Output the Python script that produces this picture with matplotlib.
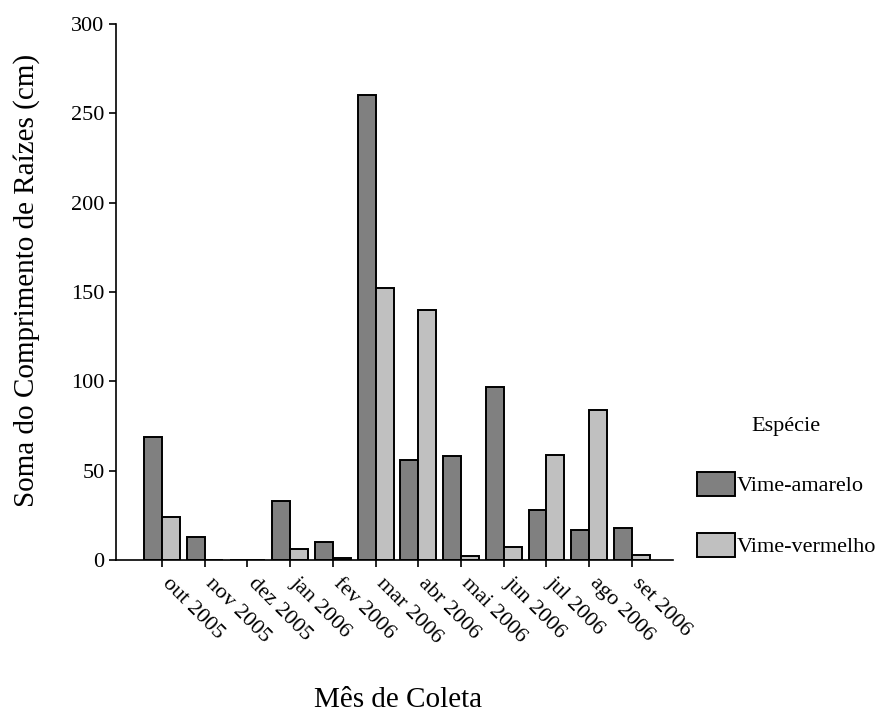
import matplotlib
matplotlib.use('Agg')
import matplotlib.pyplot as plt
import matplotlib.transforms as mtransforms
import numpy as np

plt.rcParams['font.family'] = 'Liberation Serif'

meses = ['out 2005', 'nov 2005', 'dez 2005', 'jan 2006', 'fev 2006', 'mar 2006',
         'abr 2006', 'mai 2006', 'jun 2006', 'jul 2006', 'ago 2006', 'set 2006']
amarelo = [69, 13, 0, 33, 10, 260, 56, 58, 97, 28, 17, 18]
vermelho = [24, 0, 0, 6, 1, 152, 140, 2, 7, 59, 84, 3]

fig = plt.figure(figsize=(8.82, 7.13), dpi=100)
ax = fig.add_axes([0.1319, 0.2146, 0.631, 0.7517])

x = np.arange(len(meses))
w = 0.42
ax.bar(x, amarelo, -w, align='edge', color='#808080', edgecolor='black', linewidth=1.4,
       label='Vime-amarelo')
ax.bar(x, vermelho, w, align='edge', color='#c0c0c0', edgecolor='black', linewidth=1.4,
       label='Vime-vermelho')

ax.set_xlim(-1.07, 11.96)
ax.set_ylim(0, 300)
ax.set_yticks([0, 50, 100, 150, 200, 250, 300])
ax.set_xticks(x)
ax.set_xticklabels(meses, rotation=-45, ha='left', va='top', rotation_mode='anchor')
ax.tick_params(labelsize=16, length=5, width=1.2, direction='out')
# shift the rotated month labels a little to the right, like the original
offset = mtransforms.ScaledTranslation(0.10, -0.02, fig.dpi_scale_trans)
for lbl in ax.get_xticklabels():
    lbl.set_transform(lbl.get_transform() + offset)
for s in ['top', 'right']:
    ax.spines[s].set_visible(False)
for s in ['left', 'bottom']:
    ax.spines[s].set_linewidth(1.2)

fig.text(27 / 882, 0.606, 'Soma do Comprimento de Raízes (cm)', rotation=90,
         ha='center', va='center', fontsize=21)
fig.text(398 / 882, 0.009, 'Mês de Coleta', ha='center', va='baseline', fontsize=21)

leg = ax.legend(loc='upper left', bbox_to_anchor=(641 / 882, 1 - 361 / 713),
                bbox_transform=fig.transFigure, frameon=False, fontsize=16,
                title='Espécie', title_fontsize=16, handlelength=1.75, handleheight=1.25,
                handletextpad=0.05, labelspacing=1.65, borderpad=2.0)

plt.savefig('out.png', dpi=100)
